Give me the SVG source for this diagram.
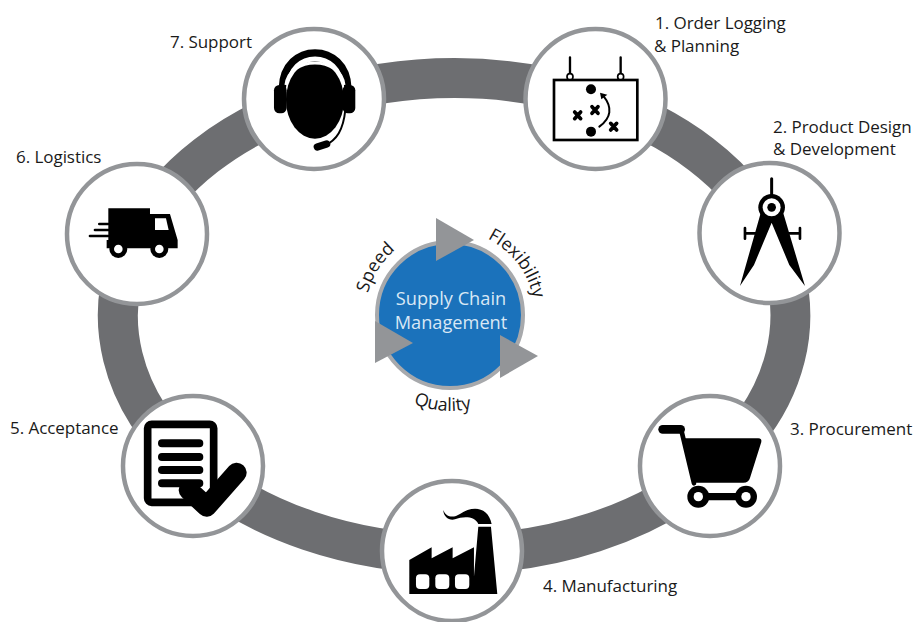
<svg xmlns="http://www.w3.org/2000/svg" width="917" height="622" viewBox="0 0 917 622">
<style>
text{font-family:"Open Sans","Noto Sans","Liberation Sans",sans-serif;fill:#1a1a1a}
.lbl{font-size:17px;letter-spacing:-.05px}
.cur{font-size:18px}
.ctr{font-size:18.2px;fill:#d9e8f5;text-anchor:middle}
.ring{fill:none;stroke:#6d6e71;stroke-width:40}
.disc{fill:#fff;stroke:#939598;stroke-width:4.5}
.tri{fill:#939598}
.k{fill:#000}
.w{fill:#fff}
.ls{fill:none;stroke:#000;stroke-linecap:round;stroke-linejoin:round}
</style>
<defs>
<path id="arcTop" d="M365 315A85 85 0 0 1 535 315"/>
<path id="arcBot" d="M357 318A93 93 0 0 0 543 318"/>
</defs>
<rect width="917" height="622" fill="#fff"/>
<g id="connectors">
<path class="ring" d="M595.5 100A336 238 0 0 1 769.5 233"/>
<path class="ring" d="M769.5 233A336 238 0 0 1 710 470"/>
<path class="ring" d="M710 470A336 238 0 0 1 452 554"/>
<path class="ring" d="M452 554A336 238 0 0 1 193 466"/>
<path class="ring" d="M193 466A336 238 0 0 1 137 237"/>
<path class="ring" d="M137 237A336 238 0 0 1 314 100"/>
<path class="ring" d="M314 100A336 238 0 0 1 595.5 100"/>
</g>
<g id="center">
<circle cx="450" cy="315" r="73" fill="#1b72bb" stroke="#a7a9ac" stroke-width="4"/>
<polygon class="tri" points="436,218 474,240 436,261"/>
<polygon class="tri" points="375,321 413,343 375,363"/>
<polygon class="tri" points="500,335 538,356 500,378"/>
<text class="ctr" x="451" y="305">Supply Chain</text>
<text class="ctr" x="451" y="329">Management</text>
<text class="cur"><textPath href="#arcTop" startOffset="22">Speed</textPath></text>
<text class="cur"><textPath href="#arcTop" startOffset="172">Flexibility</textPath></text>
<text class="cur"><textPath href="#arcBot" startOffset="108">Quality</textPath></text>
</g>
<g id="node1">
<circle class="disc" cx="595.5" cy="99" r="70"/>
<g transform="translate(500 0) scale(.3333)">
<rect x="162" y="240" width="250" height="180" fill="none" stroke="#000" stroke-width="8"/>
<path class="ls" stroke-width="7" d="M210 172V222M362 172V222"/>
<circle cx="210" cy="230" r="9" fill="#fff" stroke="#000" stroke-width="5"/>
<circle cx="362" cy="230" r="9" fill="#fff" stroke="#000" stroke-width="5"/>
<circle class="k" cx="273" cy="268" r="15"/>
<circle class="k" cx="273" cy="395" r="15"/>
<path class="ls" stroke-width="11" d="M224 336L242 356M242 336L224 356M276 320L294 340M294 320L276 340M332 370L350 390M350 370L332 390"/>
<path class="ls" stroke-width="6" d="M298 380Q352 340 310 288"/>
<polygon class="k" points="300,278 322,284 304,298"/>
</g>
</g>
<g id="node2">
<circle class="disc" cx="769.5" cy="233" r="70"/>
<g transform="translate(500 0) scale(.3333)">
<path class="ls" stroke-width="9" stroke-linecap="butt" d="M815 536V590"/>
<path class="ls" stroke-width="8" d="M735 700H785M735 684V716M850 700H900M900 684V716"/>
<path class="k" d="M782 640L720 858L762 795L815 668L868 795L915 858L850 640Z"/>
<circle class="k" cx="815" cy="622" r="40"/>
<circle class="w" cx="815" cy="622" r="27"/>
<circle class="k" cx="815" cy="622" r="13"/>
</g>
</g>
<g id="node3">
<circle class="disc" cx="710" cy="466" r="70"/>
<g transform="translate(630 390) scale(.3333)">
<path class="ls" stroke-width="26" d="M98 118H152"/>
<path class="ls" stroke-width="14" d="M155 125L192 280"/>
<path class="k" d="M160 145H385Q396 145 394 156L360 264Q356 278 340 278H190Z"/>
<path class="ls" stroke-width="22" d="M205 320H348"/>
<circle class="k" cx="205" cy="320" r="33"/>
<circle class="k" cx="348" cy="320" r="33"/>
<circle class="w" cx="205" cy="320" r="14"/>
<circle class="w" cx="348" cy="320" r="14"/>
</g>
</g>
<g id="node4">
<circle class="disc" cx="452" cy="551" r="70"/>
<g transform="translate(110 390) scale(.3333)">
<path class="k" d="M898 612V510L965 472V505L1028 472V505L1092 472V560L1105 410H1143L1162 612Z"/>
<path class="k" d="M1000 360C1008 382 1030 385 1050 372C1090 345 1135 352 1145 402H1105C1095 378 1060 378 1035 388C1018 393 1000 380 1000 360Z"/>
<rect class="w" x="918" y="553" width="40" height="44" rx="12"/>
<rect class="w" x="976" y="553" width="42" height="44" rx="12"/>
<rect class="w" x="1035" y="553" width="43" height="44" rx="12"/>
</g>
</g>
<g id="node5">
<circle class="disc" cx="193" cy="466" r="70"/>
<g transform="translate(110 390) scale(.3333)">
<rect x="113" y="103" width="198" height="234" rx="12" fill="#fff" stroke="#000" stroke-width="23"/>
<path class="ls" stroke-width="24" d="M156 160H268M156 201H268M156 240H268M156 280H268"/>
<path class="ls" stroke="#fff" stroke-width="60" d="M236 300L290 350L380 248"/>
<path class="ls" stroke-width="36" d="M236 300L290 350L380 248"/>
</g>
</g>
<g id="node6">
<circle class="disc" cx="137" cy="234" r="70"/>
<g transform="translate(0 20) scale(.3333)">
<path class="k" d="M325 565H450V582H510L533 660V685H320V660H325Z"/>
<polygon class="w" points="465,595 498,595 506,630 465,630"/>
<path class="ls" stroke-width="8" stroke-linecap="butt" d="M298 612H325M285 630H325M270 648H325"/>
<circle class="k" cx="355" cy="687" r="27"/>
<circle class="k" cx="478" cy="687" r="27"/>
<circle class="w" cx="355" cy="687" r="13"/>
<circle class="w" cx="478" cy="687" r="13"/>
</g>
</g>
<g id="node7">
<circle class="disc" cx="314" cy="99" r="70"/>
<g transform="translate(0 20) scale(.3333)">
<path class="ls" stroke-width="22" d="M847 205C850 63 1040 63 1044 205"/>
<ellipse class="k" cx="945" cy="240" rx="87" ry="116"/>
<path fill="none" stroke="#fff" stroke-width="9" d="M858 195C868 107 1022 107 1032 195"/>
<rect class="k" x="822" y="195" width="38" height="85" rx="16"/>
<rect class="k" x="1028" y="195" width="38" height="85" rx="16"/>
<path class="ls" stroke-width="6" d="M1036 270C1030 330 1010 360 975 376"/>
<path class="ls" stroke-width="22" d="M952 381L980 372"/>
</g>
</g>
<g id="labels">
<text class="lbl" x="655" y="29">1. Order Logging</text>
<text class="lbl" x="654" y="52">&amp; Planning</text>
<text class="lbl" x="773" y="133">2. Product Design</text>
<text class="lbl" x="773" y="155">&amp; Development</text>
<text class="lbl" x="790" y="435">3. Procurement</text>
<text class="lbl" x="543" y="592">4. Manufacturing</text>
<text class="lbl" x="10" y="434">5. Acceptance</text>
<text class="lbl" x="16" y="163">6. Logistics</text>
<text class="lbl" x="170" y="48">7. Support</text>
</g>
</svg>
